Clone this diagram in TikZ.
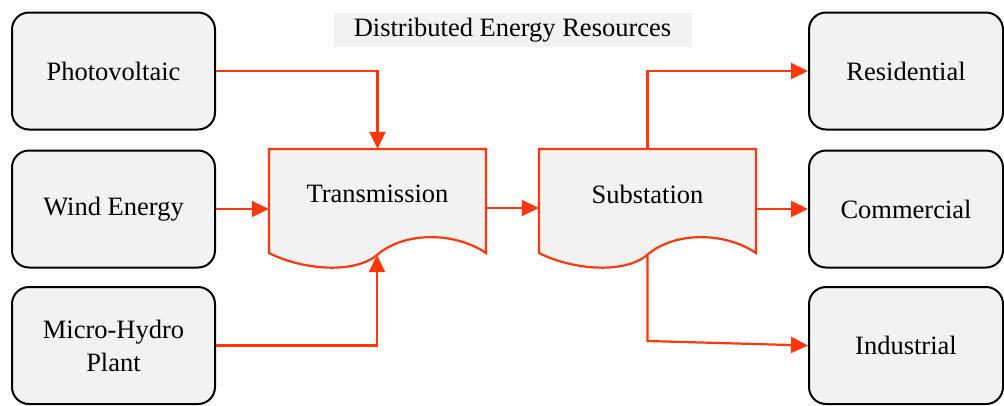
\documentclass[tikz,border=0pt]{standalone}
\usepackage{fontspec}
\setmainfont{Liberation Serif}
\usetikzlibrary{arrows.meta}
\definecolor{boxfill}{HTML}{F2F2F2}
\definecolor{flowred}{RGB}{255,55,10}
\tikzset{
  srcbox/.style={draw=black, line width=2pt, fill=boxfill, rounded corners=17pt,
    minimum width=203pt, minimum height=117pt, align=center, inner sep=0pt},
  docfill/.style={draw=flowred, line width=2.2pt, fill=boxfill, line join=miter},
  docnode/.style={minimum width=217pt, minimum height=104pt, inner sep=0pt},
  lbl/.style={inner sep=0pt},
  arr/.style={draw=flowred, line width=2.2pt, -{Triangle[length=17pt,width=16pt]}},
  titlebox/.style={fill=boxfill, minimum width=358pt, minimum height=34pt, inner sep=0pt}
}
\newcommand\docpath{(-108.5,-52) -- (108.5,-52) -- (108.5,52) .. controls (77.5,31) and (27.5,30) .. (-0.5,54) .. controls (-24.5,74) and (-77.5,68) .. (-108.5,52) -- cycle}
\begin{document}
\begin{tikzpicture}[x=1pt,y=-1pt,font=\fontsize{26.5}{33}\selectfont]
\useasboundingbox (0,0) rectangle (1004,405);
% title
\node[titlebox] (title) at (512.5,30) {Distributed Energy Resources};
% sources
\node[srcbox] (pv) at (113.5,71) {Photovoltaic};
\node[srcbox] (wind) at (113.5,209) {Wind Energy};
\node[srcbox] (mh) at (113.5,345.5) {Micro-Hydro\\Plant};
% consumers
\node[srcbox, minimum width=194pt] (res) at (906,71) {Residential};
\node[srcbox, minimum width=194pt] (com) at (906,209) {Commercial};
\node[srcbox, minimum width=194pt] (ind) at (906,345.5) {Industrial};
% document shapes
\begin{scope}[shift={(377.5,201)}]
  \filldraw[docfill] \docpath;
\end{scope}
\begin{scope}[shift={(647.5,201)}]
  \filldraw[docfill] \docpath;
\end{scope}
\node[docnode] (tr) at (377.5,201) {};
\node[docnode] (ss) at (647.5,201) {};
\node[lbl] (trlabel) at (377.5,194) {Transmission};
\node[lbl] (sslabel) at (647.5,194) {Substation};
\coordinate (trb) at (377,255);
\coordinate (ssb) at (647.5,255);
\coordinate (ssbend) at (647.5,341);
% connectors
\draw[arr] (pv.east) -| (tr.north);
\draw[arr] (wind.east) -- (wind.east -| tr.west);
\draw[arr] (mh.east) -| (trb);
\draw[arr] (tr.east |- 0,208) -- (ss.west |- 0,208);
\draw[arr] (ss.north) |- (res.west);
\draw[arr] (ss.east |- com.west) -- (com.west);
\draw[arr] (ssb) -- (ssbend) -- (ind.west);
\end{tikzpicture}
\end{document}
